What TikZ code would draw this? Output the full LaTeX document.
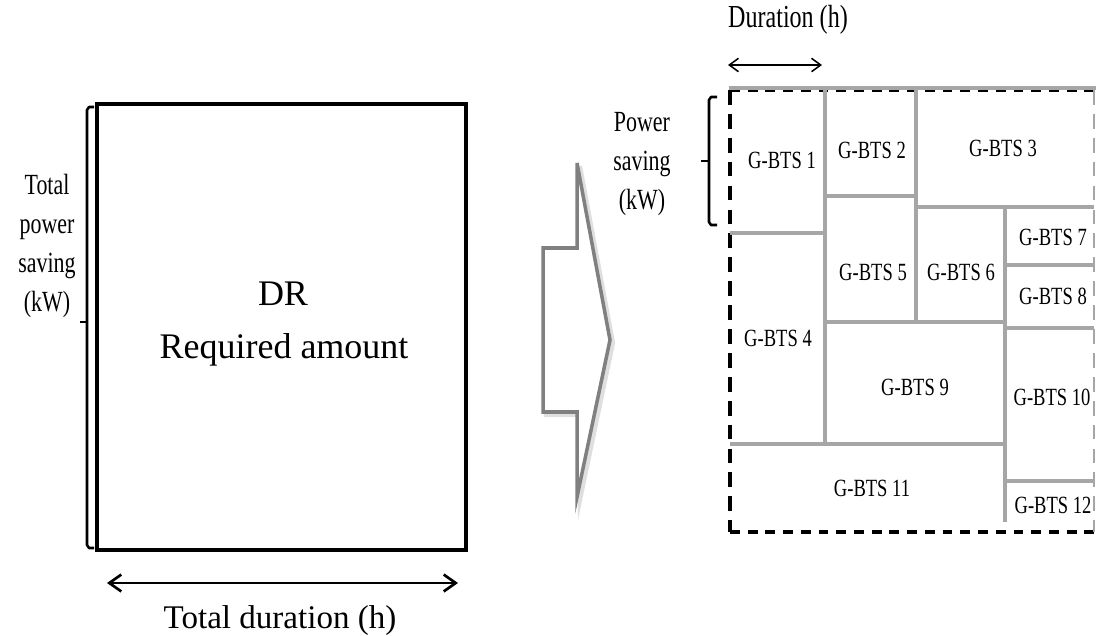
\documentclass[tikz,border=0pt]{standalone}
\usepackage{fontspec}
\setmainfont{Liberation Serif}
\newfontfamily\narrowserif{Liberation Serif}[FakeStretch=0.75]
\usetikzlibrary{arrows.meta}
\definecolor{cellgray}{HTML}{A6A6A6}
\definecolor{arrowgray}{HTML}{808080}

\begin{document}
\begin{tikzpicture}[x=0.025cm,y=-0.025cm,
  cellline/.style={cellgray,line width=2.7pt},
  celltext/.style={font=\narrowserif\fontsize{17.6}{20}\selectfont,inner sep=0pt},
  axislabel/.style={font=\narrowserif\fontsize{20.8}{27.6}\selectfont,align=center,inner sep=0pt},
  span/.style={{Straight Barb[length=8.5pt,width=12pt]}-{Straight Barb[length=8.5pt,width=12pt]},line width=1.9pt},
  brace/.style={line width=1.8pt,line join=round}]
  \useasboundingbox (0,0) rectangle (1096,636);

  % left: the whole DR request
  \draw[line width=2.7pt] (97,104) rectangle (466,550);
  \node[anchor=base,font=\fontsize{25.6}{30}\selectfont] (dr) at (283,305) {DR};
  \node[anchor=base,font=\fontsize{25.6}{30}\selectfont] (amount) at (284,358) {Required amount};
  \draw[brace] (94,107) -- (89,107) -- (87,110) -- (87,545) -- (89,548) -- (94,548);
  \draw[brace] (87,322) -- (80,322);
  \node[axislabel] (power) at (47,246) {Total\\power\\saving\\(kW)};
  \coordinate (tl) at (107,583);
  \coordinate (tr) at (458,583);
  \draw[span] (tl) -- (tr);
  \node[font=\fontsize{23.5}{28}\selectfont] (dur) at (280,621) {Total duration (h)};

  % block arrow
  \draw[gray!25,line width=3pt,line join=miter,shift={(3,3)}]
    (543,248) -- (577,248) -- (577,163) -- (610,340) -- (577,497) -- (577,412) -- (543,412) -- cycle;
  \draw[arrowgray,fill=white,line width=2.5pt,line join=miter]
    (543,248) -- (577,248) -- (577,163) -- (610,340) -- (577,497) -- (577,412) -- (543,412) -- cycle;

  % right: split among the G-BTSs
  \draw[line width=2.6pt,dash pattern=on 7pt off 5.6pt] (730,90) -- (1094,90);
  \draw[line width=2.6pt,dash pattern=on 10.5pt off 6.5pt] (730,90) -- (730,532);
  \draw[line width=2.6pt,dash pattern=on 7pt off 5.6pt] (730,532) -- (1094,532);
  \draw[cellgray,line width=1.4pt,dash pattern=on 10.5pt off 6.5pt] (1094,90) -- (1094,532);
  \draw[cellline] (729,88) -- (1096,88);
  \draw[cellline] (825,88) -- (825,444);
  \draw[cellline] (916,88) -- (916,322);
  \draw[cellline] (1005,207) -- (1005,522);
  \draw[cellline] (730,233) -- (825,233);
  \draw[cellline] (825,196) -- (916,196);
  \draw[cellline] (916,207) -- (1094,207);
  \draw[cellline] (1005,265) -- (1094,265);
  \draw[cellline] (825,322) -- (1005,322);
  \draw[cellline] (1005,328) -- (1094,328);
  \draw[cellline] (730,444) -- (1005,444);
  \draw[cellline] (1005,481) -- (1094,481);

  \node[celltext] (g1) at (782,160) {G-BTS 1};
  \node[celltext] (g2) at (872,150) {G-BTS 2};
  \node[celltext] (g3) at (1003,148) {G-BTS 3};
  \node[celltext] (g4) at (778,338) {G-BTS 4};
  \node[celltext] (g5) at (873,272) {G-BTS 5};
  \node[celltext] (g6) at (961,272) {G-BTS 6};
  \node[celltext] (g7) at (1053,237) {G-BTS 7};
  \node[celltext] (g8) at (1053,296) {G-BTS 8};
  \node[celltext] (g9) at (915,387) {G-BTS 9};
  \node[celltext] (g10) at (1052,397) {G-BTS 10};
  \node[celltext] (g11) at (872,488) {G-BTS 11};
  \node[celltext] (g12) at (1053,505) {G-BTS 12};

  \draw[brace] (717,97) -- (711,97) -- (709,100) -- (709,222) -- (711,225) -- (717,225);
  \draw[brace] (709,161) -- (701,161);
  \node[axislabel] (saving) at (642,164) {Power\\saving\\(kW)};
  \node[font=\narrowserif\fontsize{22.8}{27}\selectfont] (duration) at (788,20) {Duration (h)};
  \coordinate (dl) at (728,65);
  \coordinate (dr2) at (822,65);
  \draw[{Straight Barb[length=6.5pt,width=9.5pt]}-{Straight Barb[length=6.5pt,width=9.5pt]},line width=1.1pt] (dl) -- (dr2);
\end{tikzpicture}
\end{document}
